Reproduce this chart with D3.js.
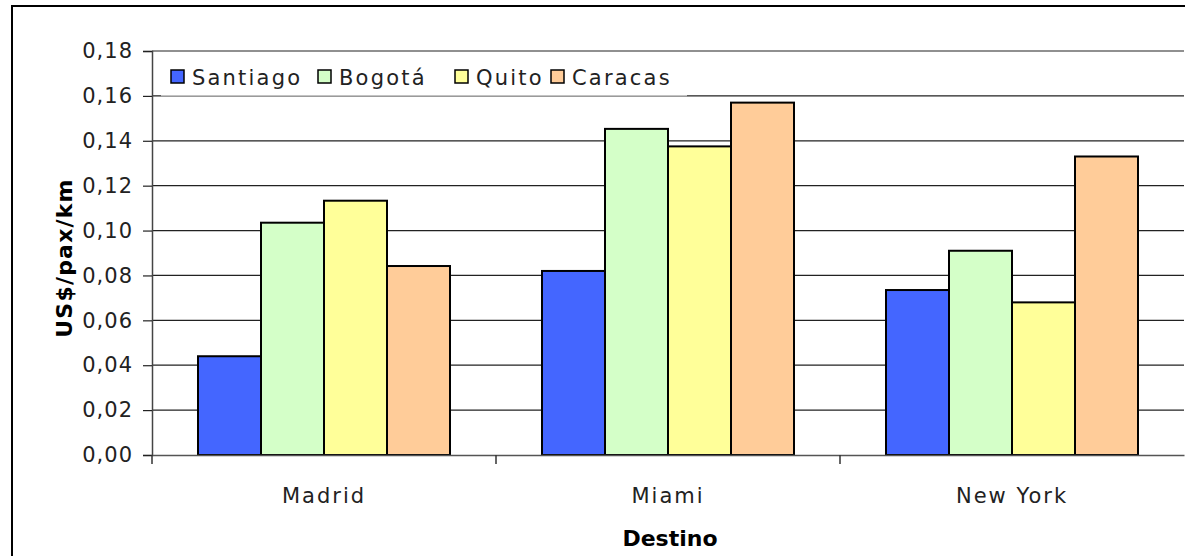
<!DOCTYPE html>
<html>
<head>
<meta charset="utf-8">
<script src="https://cdn.jsdelivr.net/npm/d3@7"></script>
<style>
  body { margin: 0; background: #fff; }
  svg { display: block; font-family: "DejaVu Sans", sans-serif; }
</style>
</head>
<body>
<div class="chart"></div>
<script>
var svgWidth = 1185;
var svgHeight = 556;

// data
var destinos = ["Madrid", "Miami", "New York"];
var origenes = ["Santiago", "Bogotá", "Quito", "Caracas"];
var santiago = [0.044, 0.082, 0.0735];
var bogota = [0.1035, 0.1453, 0.091];
var quito = [0.1133, 0.1375, 0.068];
var caracas = [0.0842, 0.157, 0.133];
var yTicks = [0, 0.02, 0.04, 0.06, 0.08, 0.10, 0.12, 0.14, 0.16, 0.18];
var colors = ["#4466ff", "#d4ffc8", "#ffff99", "#ffcc99"];

var series = [santiago, bogota, quito, caracas];

var margin = { top: 51, right: 1, bottom: 101, left: 152 };
var width = svgWidth - margin.left - margin.right;
var height = svgHeight - margin.top - margin.bottom;

var svg = d3.select(".chart")
  .append("svg")
  .attr("width", svgWidth)
  .attr("height", svgHeight);

// outer chart border
svg.append("rect")
  .attr("x", 12).attr("y", 6)
  .attr("width", 1200).attr("height", 600)
  .attr("fill", "none")
  .attr("stroke", "#000")
  .attr("stroke-width", 2);

var chartGroup = svg.append("g")
  .attr("transform", `translate(${margin.left}, ${margin.top})`);

var x0 = d3.scaleBand()
  .domain(destinos)
  .range([0, width])
  .paddingInner(0)
  .paddingOuter(0);

var x1 = d3.scaleBand()
  .domain(origenes)
  .range([46, x0.bandwidth() - 46]);

var y = d3.scaleLinear()
  .domain([0, 0.18])
  .range([height, 0]);

// gridlines
chartGroup.selectAll("line.grid")
  .data(yTicks.slice(1))
  .enter()
  .append("line")
  .attr("class", "grid")
  .attr("x1", 0).attr("x2", width)
  .attr("y1", d => y(d)).attr("y2", d => y(d))
  .attr("stroke", "#222")
  .attr("stroke-width", 1.2);

// legend box (covers the 0,16 gridline)
var legH = y(0.16) - y(0.18) - 9;
var legend = chartGroup.append("g")
  .attr("transform", `translate(9, ${y(0.18) + 9})`);

legend.append("rect")
  .attr("x", 0).attr("y", 0)
  .attr("width", 526).attr("height", legH)
  .attr("fill", "#fff");

legend.append("line")
  .attr("x1", 0).attr("x2", 526)
  .attr("y1", legH).attr("y2", legH)
  .attr("stroke", "#aaa");

var legendX = [10, 157, 294, 390];
var items = legend.selectAll("g.item")
  .data(origenes)
  .enter()
  .append("g")
  .attr("class", "item")
  .attr("transform", (d, i) => `translate(${legendX[i]}, 0)`);

items.append("rect")
  .attr("x", 0).attr("y", 10)
  .attr("width", 13).attr("height", 13)
  .attr("fill", (d, i) => colors[i])
  .attr("stroke", "#000")
  .attr("stroke-width", 1.5);

items.append("text")
  .attr("x", 21).attr("y", 25)
  .attr("font-size", "21px")
  .attr("letter-spacing", "2.2px")
  .attr("fill", "#222")
  .text(d => d);

// bars
var groups = chartGroup.selectAll("g.dest")
  .data(destinos)
  .enter()
  .append("g")
  .attr("class", "dest")
  .attr("transform", d => `translate(${x0(d)}, 0)`);

groups.selectAll("rect")
  .data((d, j) => series.map((s, i) => ({ key: origenes[i], value: s[j], i: i })))
  .enter()
  .append("rect")
  .attr("x", d => x1(d.key))
  .attr("y", d => y(d.value))
  .attr("width", x1.bandwidth())
  .attr("height", d => height - y(d.value))
  .attr("fill", d => colors[d.i])
  .attr("stroke", "#000")
  .attr("stroke-width", 2);

// y axis
var leftAxis = d3.axisLeft(y)
  .tickValues(yTicks)
  .tickSize(9)
  .tickPadding(10)
  .tickFormat(d => d3.format(".2f")(d).replace(".", ","));

var yAxisG = chartGroup.append("g").call(leftAxis);
yAxisG.select(".domain").attr("stroke", "#444").attr("stroke-width", 1.5);
yAxisG.selectAll(".tick line").attr("stroke", "#222").attr("stroke-width", 1.2);
yAxisG.selectAll(".tick text")
  .attr("font-size", "21px")
  .attr("font-family", "DejaVu Sans")
  .attr("letter-spacing", "1px")
  .attr("fill", "#222");

// x axis
var bottomAxis = d3.axisBottom(x0).tickSize(0).tickPadding(33);
var xAxisG = chartGroup.append("g")
  .attr("transform", `translate(0, ${height})`)
  .call(bottomAxis);
xAxisG.select(".domain").attr("stroke", "#555").attr("stroke-width", 1.5);
xAxisG.selectAll(".tick text")
  .attr("font-size", "21px")
  .attr("font-family", "DejaVu Sans")
  .attr("letter-spacing", "2px")
  .attr("fill", "#222");

// category separators
xAxisG.selectAll("line.sep")
  .data([0, 1, 2])
  .enter()
  .append("line")
  .attr("class", "sep")
  .attr("x1", d => d * x0.bandwidth()).attr("x2", d => d * x0.bandwidth())
  .attr("y1", 0).attr("y2", 9)
  .attr("stroke", "#333")
  .attr("stroke-width", 1.5);

// axis titles
chartGroup.append("text")
  .attr("transform", "rotate(-90)")
  .attr("x", -height / 2 - 5)
  .attr("y", -margin.left + 72)
  .attr("text-anchor", "middle")
  .attr("font-size", "22px")
  .attr("font-weight", "bold")
  .attr("letter-spacing", "1.2px")
  .text("US$/pax/km");

chartGroup.append("text")
  .attr("x", 518)
  .attr("y", height + 91)
  .attr("text-anchor", "middle")
  .attr("font-size", "22px")
  .attr("font-weight", "bold")
  .text("Destino");
</script>
</body>
</html>
